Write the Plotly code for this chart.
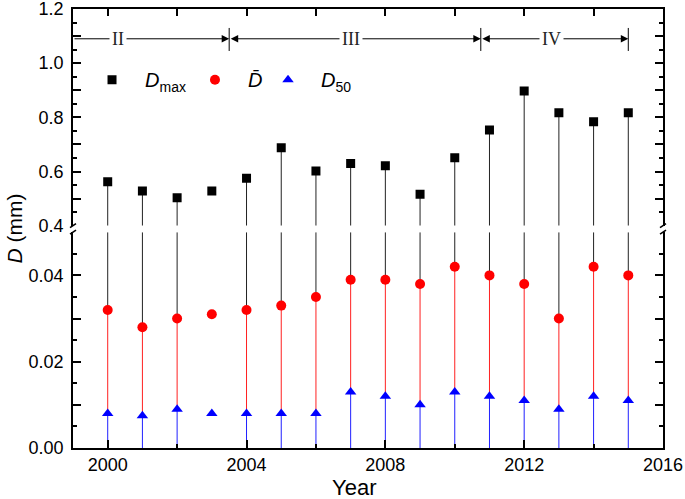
import plotly.graph_objects as go

# ---------------- data ----------------
years = [2000, 2001, 2002, 2003, 2004, 2005, 2006, 2007,
         2008, 2009, 2010, 2011, 2012, 2013, 2014, 2015]
d_max = [0.562, 0.528, 0.503, 0.528, 0.575, 0.688, 0.602, 0.630,
         0.621, 0.516, 0.651, 0.753, 0.897, 0.817, 0.784, 0.817]
d_mean = [0.032, 0.028, 0.030, 0.031, 0.032, 0.033, 0.035, 0.039,
          0.039, 0.038, 0.042, 0.040, 0.038, 0.030, 0.042, 0.040]
d_50 = [0.008, 0.0075, 0.009, 0.008, 0.008, 0.008, 0.008, 0.013,
        0.012, 0.010, 0.013, 0.012, 0.011, 0.009, 0.012, 0.011]
no_stem_years = [2003]

period_labels = ["II", "III", "IV"]
period_bounds = [1999, 2003.5, 2010.75, 2015]
period_label_x = [2000.3, 2007.0, 2012.78]

x_tick_vals = [2000, 2004, 2008, 2012, 2016]
upper_tick_vals = [0.4, 0.5, 0.6, 0.7, 0.8, 0.9, 1.0, 1.1, 1.2]
upper_tick_text = ["0.4", "", "0.6", "", "0.8", "", "1.0", "", "1.2"]
lower_tick_vals = [0.0, 0.01, 0.02, 0.03, 0.04]
lower_tick_text = ["0.00", "", "0.02", "", "0.04"]

UPPER_RANGE = [0.4, 1.2]
LOWER_RANGE = [0.0, 0.05]
FONT = "Liberation Sans, Arial, sans-serif"


def stems(xs, top, bottom):
    sx, sy = [], []
    for x, t, b in zip(xs, top, bottom):
        if x in no_stem_years:
            continue
        sx += [x, x, None]
        sy += [t, b, None]
    return sx, sy


fig = go.Figure()

# dummy trace to create the top mirror axis subplot (added first, drawn below)
fig.add_trace(go.Scatter(x=[years[0]], y=[d_max[0]], xaxis="x2", yaxis="y2",
                         mode="markers", marker=dict(opacity=0), showlegend=False,
                         hoverinfo="skip"))

# stems (drawn first, behind markers)
sx, sy = stems(years, d_max, [UPPER_RANGE[0]] * len(years))
fig.add_trace(go.Scatter(x=sx, y=sy, mode="lines", xaxis="x", yaxis="y2",
                         line=dict(color="#222222", width=1), showlegend=False,
                         hoverinfo="skip"))
sx, sy = stems(years, [LOWER_RANGE[1]] * len(years), d_mean)
fig.add_trace(go.Scatter(x=sx, y=sy, mode="lines", xaxis="x", yaxis="y",
                         line=dict(color="#222222", width=1), showlegend=False,
                         hoverinfo="skip"))
sx, sy = stems(years, d_mean, d_50)
fig.add_trace(go.Scatter(x=sx, y=sy, mode="lines", xaxis="x", yaxis="y",
                         line=dict(color="#ff2020", width=1), showlegend=False,
                         hoverinfo="skip"))
sx, sy = stems(years, d_50, [LOWER_RANGE[0]] * len(years))
fig.add_trace(go.Scatter(x=sx, y=sy, mode="lines", xaxis="x", yaxis="y",
                         line=dict(color="#2020ff", width=1), showlegend=False,
                         hoverinfo="skip"))

# markers
fig.add_trace(go.Scatter(x=years, y=d_max, mode="markers", xaxis="x", yaxis="y2",
                         name="<i>D</i><sub>max</sub>", legend="legend",
                         marker=dict(symbol="square", size=9, color="black")))
fig.add_trace(go.Scatter(x=years, y=d_mean, mode="markers", xaxis="x", yaxis="y",
                         name="<i>D\u0304</i>", legend="legend2",
                         marker=dict(symbol="circle", size=10, color="#ff0000")))
fig.add_trace(go.Scatter(x=years, y=d_50, mode="markers", xaxis="x", yaxis="y",
                         name="<i>D</i><sub>50</sub>", legend="legend3",
                         marker=dict(symbol="triangle-up", size=10, color="#0000ff")))

axis_common = dict(showline=True, linecolor="black", linewidth=1.5,
                   ticks="inside", tickcolor="black", tickwidth=1.5,
                   showgrid=False, zeroline=False, automargin=False,
                   tickfont=dict(family=FONT, size=18, color="black"))

legend_common = dict(y=0.839, xanchor="left", yanchor="middle", itemwidth=56,
                     bgcolor="rgba(0,0,0,0)", font=dict(family=FONT, size=20))

fig.update_layout(
    width=685, height=499, autosize=False,
    margin=dict(l=73, r=22, t=9, b=51, autoexpand=False),
    paper_bgcolor="white", plot_bgcolor="rgba(0,0,0,0)",
    font=dict(family=FONT, color="black"),
    xaxis=dict(domain=[0, 1], range=[1999, 2016], anchor="y",
               tickvals=x_tick_vals, ticklen=8,
               minor=dict(tickvals=[2002, 2006, 2010, 2014], ticklen=4,
                          ticks="inside", tickcolor="black", tickwidth=1.5),
               **axis_common),
    xaxis2=dict(domain=[0, 1], range=[1999, 2016], anchor="y2", side="top",
                matches="x", tickvals=list(range(2000, 2017, 2)), ticklen=7,
                showticklabels=False, **axis_common),
    yaxis=dict(domain=[0, 0.4915], range=LOWER_RANGE, anchor="x",
               tickvals=lower_tick_vals, ticktext=lower_tick_text, ticklen=8,
               mirror="ticks", ticklabelstandoff=4,
               minor=dict(dtick=0.005, tick0=0, ticklen=4, ticks="inside",
                          tickcolor="black", tickwidth=1.5),
               **axis_common),
    yaxis2=dict(domain=[0.5064, 1], range=UPPER_RANGE, anchor="x",
                tickvals=upper_tick_vals, ticktext=upper_tick_text, ticklen=8,
                mirror="ticks", ticklabelstandoff=4, ticklabeloverflow="allow",
                minor=dict(dtick=0.05, tick0=0.4, ticklen=4, ticks="inside",
                           tickcolor="black", tickwidth=1.5),
                **axis_common),
    legend=dict(x=0.0102, **legend_common),
    legend2=dict(x=0.1847, **legend_common),
    legend3=dict(x=0.3085, **legend_common),
    showlegend=True,
)

# period arrows (upper panel, y = 1.09)
arrow_y = 1.09
annotations = []
for i in range(len(period_labels)):
    x0, x1 = period_bounds[i], period_bounds[i + 1]
    annotations.append(dict(x=x1, y=arrow_y, xref="x", yref="y2",
                            ax=x0, ay=arrow_y, axref="x", ayref="y2",
                            text="", showarrow=True, arrowhead=2, arrowsize=1.5,
                            arrowwidth=1, arrowcolor="black", standoff=0,
                            startstandoff=0,
                            arrowside="end" if i == 0 else "end+start",
                            startarrowhead=2, startarrowsize=1.5))
for lab, lx in zip(period_labels, period_label_x):
    annotations.append(dict(x=lx, y=arrow_y, xref="x", yref="y2", text=lab,
                            showarrow=False, bgcolor="white", borderpad=2,
                            font=dict(family="Liberation Serif, Times New Roman, serif",
                                      size=18, color="#222")))

annotations.append(dict(x=-0.1, y=0.5, xref="paper", yref="paper",
                        xanchor="center", yanchor="middle",
                        text="<i>D</i> (mm)", textangle=-90, showarrow=False,
                        font=dict(family=FONT, size=21)))
annotations.append(dict(x=0.476, y=-0.091, xref="paper", yref="paper",
                        text="Year", showarrow=False, xanchor="center",
                        yanchor="middle", font=dict(family=FONT, size=22)))
fig.update_layout(annotations=annotations)

shapes = []
for b in period_bounds[1:]:
    shapes.append(dict(type="line", xref="x", yref="y2", x0=b, x1=b,
                       y0=1.045, y1=1.13, line=dict(color="black", width=1)))
# axis break marks (left and right)
for xp in [0, 1]:
    for yp in [0.5064, 0.4915]:
        shapes.append(dict(type="line", xref="paper", yref="paper",
                           xsizemode="pixel", ysizemode="pixel",
                           xanchor=xp, yanchor=yp,
                           x0=-3, x1=3, y0=-2, y1=2,
                           line=dict(color="black", width=1.5)))
fig.update_layout(shapes=shapes)

fig.write_html("out.html",
               config={"responsive": False, "displayModeBar": False},
               post_script="document.body.style.margin='0';")
